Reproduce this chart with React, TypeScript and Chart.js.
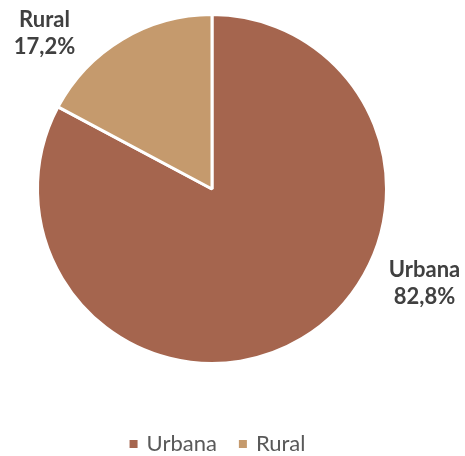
import React, { useEffect, useRef } from "react";
import { Chart, registerables } from "chart.js";

Chart.register(...registerables);

const categories = ["Urbana", "Rural"];
const values = [82.8, 17.2];
const valueLabels = ["82,8%", "17,2%"];
const colors = ["#A5654E", "#C59A6D"];

const FONT = "Lato, 'Open Sans', sans-serif";

const overlayPlugin = {
  id: "overlay",
  afterDraw(chart: any) {
    const ctx = chart.ctx as CanvasRenderingContext2D;
    const meta = chart.getDatasetMeta(0);
    const arc0 = meta.data[0];
    const cx = arc0.x;
    const cy = arc0.y;
    const r = arc0.outerRadius;
    // data labels (placed outside the pie)
    const offsets: [number, number][] = [
      [1.218, 0.543],
      [-0.96, -0.894],
    ];
    ctx.save();
    ctx.fillStyle = "#404040";
    ctx.font = `bold 22px ${FONT}`;
    ctx.textAlign = "center";
    ctx.textBaseline = "middle";
    categories.forEach((c, i) => {
      const x = cx + offsets[i][0] * r;
      const y = cy + offsets[i][1] * r;
      ctx.fillText(c, x, y - 13.5);
      ctx.fillText(valueLabels[i], x, y + 13.5);
    });
    // legend
    ctx.font = `22px ${FONT}`;
    ctx.textAlign = "left";
    const box = 8;
    const gapBox = 9;
    const gapItem = 22;
    const widths = categories.map((c) => ctx.measureText(c).width);
    const total =
      widths.reduce((a, w) => a + box + gapBox + w, 0) + gapItem * (categories.length - 1);
    let x = chart.width / 2 - total / 2 - 15;
    const ly = 444;
    categories.forEach((c, i) => {
      ctx.fillStyle = colors[i];
      ctx.fillRect(x, ly - box / 2, box, box);
      x += box + gapBox;
      ctx.fillStyle = "#595959";
      ctx.fillText(c, x, ly);
      x += widths[i] + gapItem;
    });
    ctx.restore();
  },
};

export default function App() {
  const ref = useRef<HTMLCanvasElement>(null);
  useEffect(() => {
    document.body.style.margin = "0";
    const chart = new Chart(ref.current!, {
      type: "pie",
      data: {
        labels: categories,
        datasets: [
          {
            data: values,
            backgroundColor: colors,
            borderColor: "#ffffff",
            borderWidth: 3,
          },
        ],
      },
      options: {
        animation: false,
        responsive: false,
        maintainAspectRatio: false,
        layout: { padding: { left: 36, right: 77, top: 13, bottom: 91 } },
        plugins: {
          legend: { display: false },
          tooltip: { enabled: false },
        },
      },
      plugins: [overlayPlugin],
    });
    return () => chart.destroy();
  }, []);
  return (
    <div style={{ position: "absolute", left: 0, top: 0, width: 465, height: 456, background: "#fff" }}>
      <canvas ref={ref} width={465} height={456} style={{ width: 465, height: 456 }} />
    </div>
  );
}
